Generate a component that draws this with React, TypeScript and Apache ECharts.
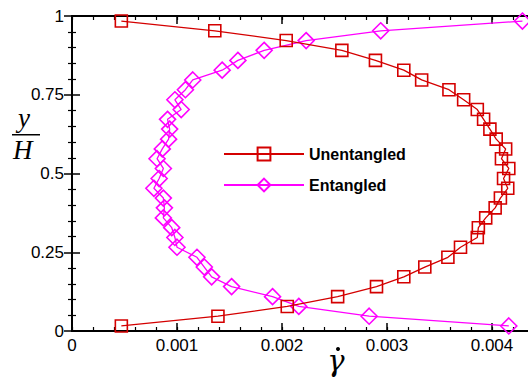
import React, { useEffect, useRef } from "react";
import * as echarts from "echarts";

const yOverH = [
  0.016, 0.047, 0.078, 0.109, 0.141, 0.172, 0.203, 0.234, 0.266, 0.297, 0.328,
  0.359, 0.391, 0.422, 0.453, 0.484, 0.516, 0.547, 0.578, 0.609, 0.641, 0.672,
  0.703, 0.734, 0.766, 0.797, 0.828, 0.859, 0.891, 0.922, 0.953, 0.984,
];
const unentangledRate = [
  0.00047, 0.00139, 0.00205, 0.00253, 0.0029, 0.00316, 0.00336, 0.00358,
  0.0037, 0.00386, 0.00387, 0.00394, 0.00403, 0.00408, 0.00415, 0.00411,
  0.00416, 0.00409, 0.00413, 0.00404, 0.00398, 0.00392, 0.00386, 0.00373,
  0.00359, 0.00333, 0.00316, 0.00289, 0.00257, 0.00204, 0.00136, 0.00047,
];
const entangledRate = [
  0.00416, 0.00283, 0.00216, 0.00191, 0.00152, 0.00133, 0.00126, 0.00119,
  0.001, 0.00098, 0.00095, 0.00087, 0.00088, 0.00087, 0.00078, 0.00083,
  0.00087, 0.00081, 0.00086, 0.00092, 0.00093, 0.00091, 0.00104, 0.00098,
  0.00108, 0.00115, 0.00143, 0.00158, 0.00183, 0.00223, 0.00294, 0.00429,
];
const seriesNames = ["Unentangled", "Entangled"];
const xMin = 0;
const xMax = 0.0044;
const xMajor = 0.001;
const xMinor = 0.0002;
const yMin = 0;
const yMax = 1;
const yMajor = 0.25;

const RED = "#d40000";
const MAGENTA = "#ff00ff";
const FONT = "'Liberation Sans', Arial, Helvetica, sans-serif";
const SERIF = "'Liberation Serif', 'DejaVu Serif', serif";
const GREEK = "'DejaVu Serif', 'Liberation Serif', serif";

export default function App() {
  const ref = useRef<HTMLDivElement>(null);
  useEffect(() => {
    if (!ref.current) return;
    const chart = echarts.init(ref.current, null, { renderer: "svg" });
    const axisLine = { show: true, lineStyle: { color: "#000", width: 2 } };
    const majorTick = { show: true, inside: true, length: 8, lineStyle: { color: "#000", width: 1.5 } };
    const minorTickAxis = { show: true, inside: true, length: 4, lineStyle: { color: "#000", width: 1.2 } };
    const xBase = { type: "value", min: xMin, max: xMax, splitLine: { show: false } };
    const option: any = {
      animation: false,
      backgroundColor: "#fff",
      grid: { left: 72, top: 16, right: 6, bottom: 46, containLabel: false },
      legend: {
        orient: "vertical",
        left: 218,
        top: 141,
        itemWidth: 80,
        itemHeight: 16,
        itemGap: 15,
        data: seriesNames,
        textStyle: { fontFamily: FONT, fontSize: 16, fontWeight: "bold", color: "#000" },
      },
      xAxis: [
        {
          ...xBase,
          position: "bottom",
          interval: xMajor,
          axisLine,
          axisTick: majorTick,
          axisLabel: {
            show: true,
            margin: 6,
            showMaxLabel: false,
            fontFamily: FONT,
            fontSize: 17,
            color: "#000",
            formatter: (v: number) => (v === 0 ? "0" : v.toFixed(3)),
          },
        },
        {
          ...xBase,
          position: "bottom",
          interval: xMinor,
          axisLine: { show: false },
          axisTick: minorTickAxis,
          axisLabel: { show: false },
        },
        {
          ...xBase,
          position: "top",
          interval: xMajor,
          axisLine,
          axisTick: majorTick,
          axisLabel: { show: false },
        },
        {
          ...xBase,
          position: "top",
          interval: xMinor,
          axisLine: { show: false },
          axisTick: minorTickAxis,
          axisLabel: { show: false },
        },
      ],
      yAxis: [
        {
          type: "value",
          position: "left",
          min: yMin,
          max: yMax,
          interval: yMajor,
          splitLine: { show: false },
          axisLine,
          axisTick: majorTick,
          minorTick: { show: true, splitNumber: 5, length: 4, lineStyle: { color: "#000", width: 1.2 } },
          axisLabel: { show: true, margin: 8, fontFamily: FONT, fontSize: 17, color: "#000" },
        },
        {
          type: "value",
          position: "right",
          min: yMin,
          max: yMax,
          interval: yMajor,
          splitLine: { show: false },
          axisLine,
          axisTick: majorTick,
          minorTick: { show: true, splitNumber: 5, length: 4, lineStyle: { color: "#000", width: 1.2 } },
          axisLabel: { show: false },
        },
      ],
      series: [
        {
          name: seriesNames[0],
          type: "line",
          xAxisIndex: 0,
          yAxisIndex: 0,
          data: yOverH.map((y, i) => [unentangledRate[i], y]),
          symbol: "rect",
          symbolSize: 12,
          lineStyle: { color: RED, width: 1.3 },
          itemStyle: { color: "rgba(255,255,255,0)", borderColor: RED, borderWidth: 1.6 },
          z: 3,
        },
        {
          name: seriesNames[1],
          type: "line",
          xAxisIndex: 0,
          yAxisIndex: 0,
          data: yOverH.map((y, i) => [entangledRate[i], y]),
          symbol: "diamond",
          symbolSize: 16,
          lineStyle: { color: MAGENTA, width: 1.3 },
          itemStyle: { color: "rgba(255,255,255,0)", borderColor: MAGENTA, borderWidth: 1.6 },
          z: 2,
        },
      ],
      graphic: [
        {
          type: "text",
          left: 18,
          top: 104,
          style: { text: "y", font: `italic 27px ${SERIF}`, fill: "#000" },
        },
        {
          type: "rect",
          shape: { x: 12, y: 134, width: 28, height: 1.5 },
          style: { fill: "#000" },
        },
        {
          type: "text",
          left: 13,
          top: 136,
          style: { text: "H", font: `italic 27px ${SERIF}`, fill: "#000" },
        },
        {
          type: "text",
          x: 336,
          y: 376,
          style: {
            text: "γ",
            font: `italic 29px ${GREEK}`,
            fill: "#000",
            align: "center",
            verticalAlign: "bottom",
            lineHeight: 30,
          },
        },
        {
          type: "circle",
          shape: { cx: 338, cy: 349, r: 2 },
          style: { fill: "#000" },
        },
      ],
    };
    chart.setOption(option);
    return () => chart.dispose();
  }, []);
  return (
    <div style={{ position: "fixed", left: 0, top: 0, width: 528, height: 377, overflow: "hidden", background: "#fff" }}>
      <div ref={ref} style={{ width: 540, height: 377 }} />
    </div>
  );
}
